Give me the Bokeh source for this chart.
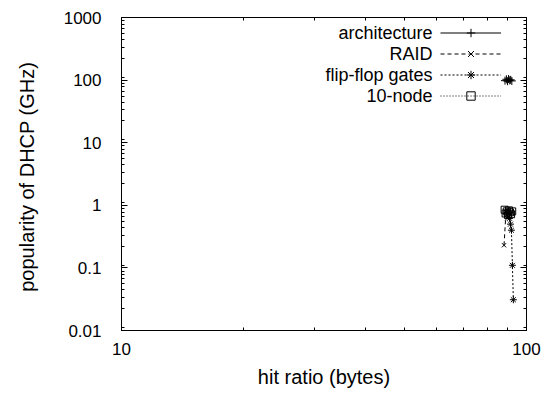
from bokeh.plotting import figure
from bokeh.models import (LogAxis, LogTicker, FixedTicker, PrintfTickFormatter, Legend,
                          LegendItem, Label, Range1d)
from bokeh.embed import file_html
from bokeh.resources import INLINE

# ---- data ----
arch_x = [88.5, 89.2, 89.8, 90.3, 90.9, 91.4, 92.0]
arch_y = [98.0, 103.0, 96.0, 104.0, 99.0, 101.0, 97.0]

raid_x = [88.0, 89.0, 89.6, 90.4, 91.0]
raid_y = [0.23, 0.78, 0.62, 0.82, 0.70]

flip_x = [90.2, 90.8, 91.3, 91.8, 92.3, 92.8]
flip_y = [0.80, 0.62, 0.50, 0.40, 0.11, 0.031]

node_x = [88.3, 88.8, 89.4, 90.0, 90.5, 91.0, 91.6, 92.2]
node_y = [0.85, 0.74, 0.80, 0.70, 0.83, 0.77, 0.72, 0.80]

series_names = ["architecture", "RAID", "flip-flop gates", "10-node"]
x_ticks = [10, 100]
x_limits = (10, 100)
y_limits = (0.01, 1000)

FONT = "Liberation Sans"
FS = "17px"
LFS = "20px"

p = figure(width=545, height=394, x_axis_type="log", y_axis_type="log",
           x_range=Range1d(*x_limits), y_range=Range1d(*y_limits),
           output_backend="svg", toolbar_location=None,
           min_border_left=121, min_border_right=19, min_border_top=17, min_border_bottom=64)
p.xgrid.visible = False
p.ygrid.visible = False
p.outline_line_color = "black"
p.outline_line_width = 1

x_minor = [m * t for t in x_ticks[:-1] for m in range(2, 10)]

def style_axis(ax, horizontal, labels=True):
    if horizontal:
        ax.ticker = FixedTicker(ticks=x_ticks, minor_ticks=x_minor)
    else:
        ax.ticker = LogTicker(num_minor_ticks=9)
    ax.formatter = PrintfTickFormatter(format="%g")
    ax.major_tick_in = 6
    ax.major_tick_out = 0
    ax.minor_tick_in = 3
    ax.minor_tick_out = 0
    ax.axis_line_color = "black"
    ax.major_tick_line_color = "black"
    ax.minor_tick_line_color = "black"
    ax.major_label_text_font = FONT
    ax.major_label_text_font_size = FS
    ax.major_label_text_color = "black" if labels else None
    ax.axis_label_text_font = FONT
    ax.axis_label_text_font_size = LFS
    ax.axis_label_text_font_style = "normal"
    ax.axis_label_text_color = "black"

for ax in p.xaxis:
    style_axis(ax, True)
for ax in p.yaxis:
    style_axis(ax, False)
p.xaxis.axis_label = "hit ratio (bytes)"
p.yaxis.axis_label = "popularity of DHCP  (GHz)"
p.xaxis.major_label_standoff = 12
p.xaxis.axis_label_standoff = 8
p.yaxis.major_label_standoff = 20
p.yaxis.axis_label_standoff = 23

ra = LogAxis()
style_axis(ra, False, labels=False)
p.add_layout(ra, "right")
ta = LogAxis()
style_axis(ta, True, labels=False)
p.add_layout(ta, "above")

r1 = p.line(arch_x, arch_y, line_color="black", line_width=1)
s1 = p.scatter(arch_x, arch_y, marker="cross", size=8, line_color="black")
r2 = p.line(raid_x, raid_y, line_color="black", line_width=1, line_dash="4 3")
s2 = p.scatter(raid_x, raid_y, marker="x", size=6, line_color="black")
r3 = p.line(flip_x, flip_y, line_color="black", line_width=1, line_dash="2 2")
s3 = p.scatter(flip_x, flip_y, marker="asterisk", size=7, line_color="black")
r4 = p.line(node_x, node_y, line_color="black", line_width=1, line_dash="1 2")
s4 = p.scatter(node_x, node_y, marker="square", size=7, line_color="black", fill_color=None)

items = [LegendItem(label="", renderers=[r, s]) for r, s in
         [(r1, s1), (r2, s2), (r3, s3), (r4, s4)]]
leg = Legend(items=items, location=(319, 224), glyph_width=61, glyph_height=21,
             label_width=0, label_standoff=0, label_height=21, label_text_font_size="1px",
             spacing=0, padding=0, margin=0, border_line_color=None,
             background_fill_alpha=0)
p.add_layout(leg, "center")

row_y = [298, 277, 256, 235]
for name, yy in zip(series_names, row_y):
    p.add_layout(Label(x=311, y=yy, x_units="screen", y_units="screen", text=name,
                       text_align="right", text_baseline="middle",
                       text_font=FONT, text_font_size="18px", text_color="black"))

open("out.html", "w").write(file_html(p, INLINE))
